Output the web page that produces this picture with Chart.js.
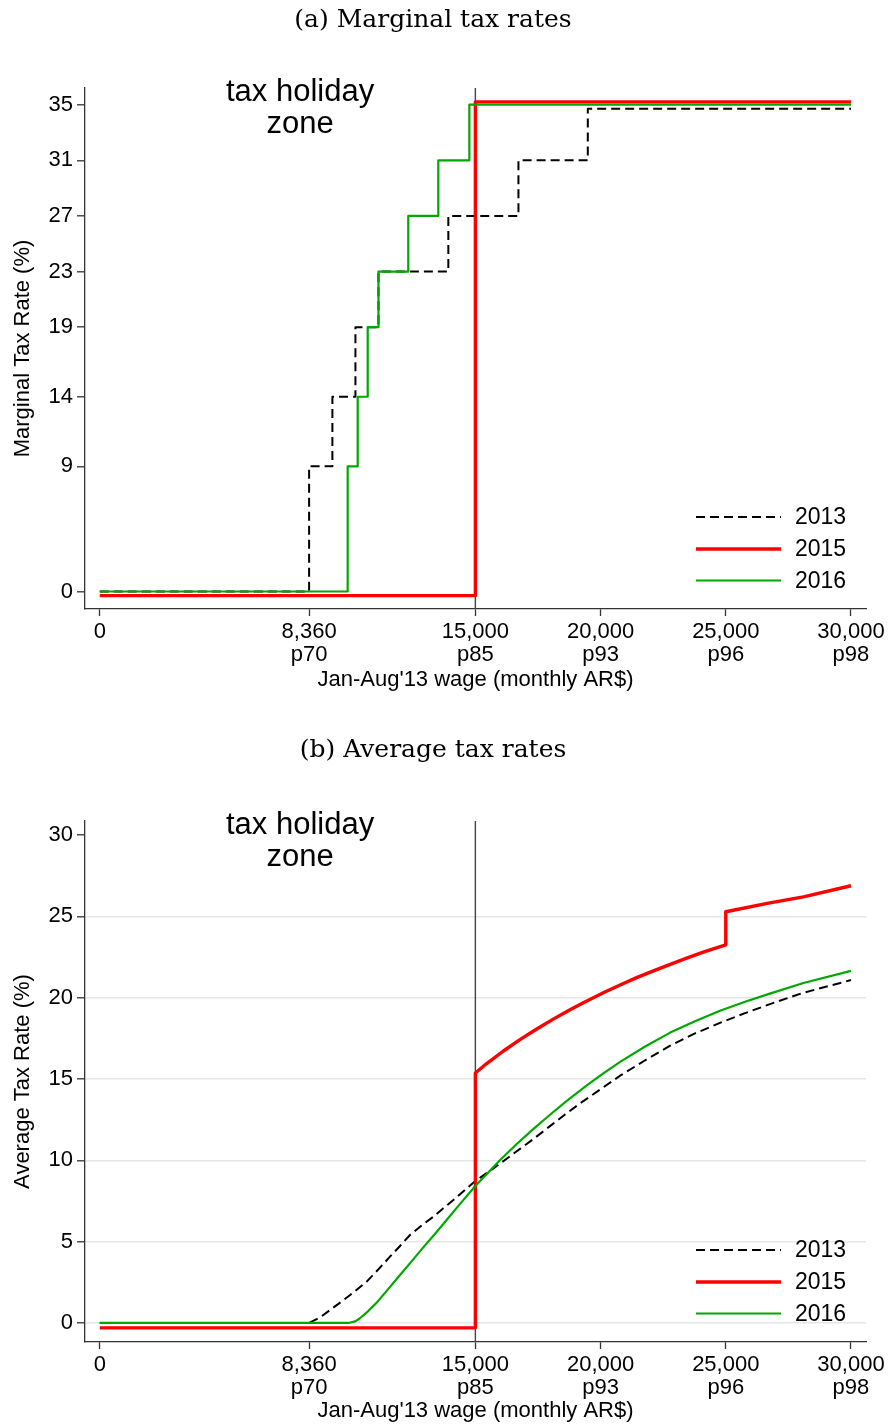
<!DOCTYPE html>
<html>
<head>
<meta charset="utf-8">
<script src="https://cdn.jsdelivr.net/npm/chart.js@4.4.1/dist/chart.umd.min.js"></script>
<style>
  html, body { margin: 0; padding: 0; background: #fff; }
  body { width: 888px; height: 1427px; position: relative; overflow: hidden; }
  .panel { position: absolute; left: 0; }
  #panelA { top: 0; }
  #panelB { top: 731px; }
</style>
</head>
<body>
<div class="panel" id="panelA"><canvas id="mtr" width="888" height="700"></canvas></div>
<div class="panel" id="panelB"><canvas id="atr" width="888" height="696"></canvas></div>
<script>
/* global Chart */

// x axis (shared by both panels)
const xTickValues = [0, 8360, 15000, 20000, 25000, 30000]
const xTickLabels = ['0', '8,360', '15,000', '20,000', '25,000', '30,000']
const xPctLabels = ['', 'p70', 'p85', 'p93', 'p96', 'p98']
const holidayCutoff = 15000
const wageEnd = 30000

// (a) marginal tax rates: bracket start wage and rate from that wage on
const mtrTicks = [0, 9, 14, 19, 23, 27, 31, 35]
const mtr2013Start = [0, 8360, 9290, 10210, 11130, 13920, 16720, 19490]
const mtr2013 = [0, 9, 14, 19, 23, 27, 31, 34.7]
const mtr2015Start = [0, 15000]
const mtr2015 = [-0.3, 35.2]
const mtr2016Start = [0, 9900, 10300, 10700, 11130, 12320, 13520, 14760]
const mtr2016 = [0, 9, 14, 19, 23, 27, 31, 35]

// (b) average tax rates
const atrTicks = [0, 5, 10, 15, 20, 25, 30]
const atr2013Wage = [0, 8360, 8800, 9200, 9600, 10000, 10660, 11130, 11590, 12000, 12390, 12860, 13320, 13720, 14120, 14560, 15000,
  15720, 16250, 16780, 17310, 17980, 18580, 19180, 19980, 20780, 21780, 22780, 23770, 24770, 25770, 26760, 28100, 30000]
const atr2013 = [0, 0, 0.35, 0.8, 1.25, 1.72, 2.54, 3.3, 4.08, 4.75, 5.41, 6.0, 6.53, 7.05, 7.56, 8.15, 8.73,
  9.5, 10.1, 10.7, 11.3, 12.1, 12.82, 13.5, 14.35, 15.2, 16.15, 17.05, 17.8, 18.45, 19.05, 19.6, 20.3, 21.08]
const atr2015Wage = [0, 15000, 15000, 15450, 16120, 16780, 17450, 18110, 18780, 19450, 20110, 20780, 21440, 22110, 22780, 23440, 24100, 25000,
  25000, 26760, 28100, 30000]
const atr2015 = [-0.3, -0.3, 15.37, 15.95, 16.72, 17.42, 18.07, 18.68, 19.25, 19.8, 20.3, 20.78, 21.23, 21.65, 22.05, 22.43, 22.8, 23.25,
  25.28, 25.83, 26.2, 26.88]
const atr2016Wage = [0, 9930, 10200, 10390, 10700, 11060, 11500, 11990, 12460, 12920, 13400, 13860, 14430, 15000,
  15980, 16650, 17310, 17980, 18650, 19450, 20110, 20780, 21780, 22780, 23770, 24770, 25770, 26760, 28100, 30000]
const atr2016 = [0, 0, 0.1, 0.29, 0.7, 1.25, 2.05, 2.95, 3.8, 4.65, 5.5, 6.35, 7.4, 8.42,
  10.0, 11.0, 11.92, 12.8, 13.65, 14.6, 15.35, 16.05, 17.0, 17.85, 18.55, 19.2, 19.75, 20.25, 20.9, 21.65]

const BLACK = '#000000'
const RED = '#ff0000'
const GREEN = '#00a800'
const SANS = '"Liberation Sans", Arial, sans-serif'

Chart.defaults.font.family = SANS
Chart.defaults.color = '#000'

function steps (starts, rates, end) {
  const pts = []
  starts.forEach((x, i) => {
    pts.push({x, y: rates[i]})
    pts.push({x: i + 1 < starts.length ? starts[i + 1] : end, y: rates[i]})
  })
  return pts
}

function pairs (xs, ys) {
  return xs.map((x, i) => ({x, y: ys[i]}))
}

const legendItems = [
  {label: '2013', color: BLACK, width: 2, dash: [9, 5]},
  {label: '2015', color: RED, width: 3.4, dash: []},
  {label: '2016', color: GREEN, width: 2.2, dash: []},
]

const overlay = {
  id: 'overlay',
  afterDraw (chart) {
    const {ctx, chartArea, scales: {x}} = chart
    ctx.save()
    ctx.fillStyle = '#000'
    ctx.textAlign = 'center'
    ctx.textBaseline = 'middle'
    ctx.font = '31px ' + SANS
    const hx = x.getPixelForValue(8000)
    ctx.fillText('tax holiday', hx, chartArea.top + 4)
    ctx.fillText('zone', hx, chartArea.top + 36)

    const rows = [-92, -60, -28.5]
    ctx.font = '23px ' + SANS
    ctx.textAlign = 'left'
    legendItems.forEach((item, i) => {
      const yy = chartArea.bottom + rows[i]
      ctx.beginPath()
      ctx.strokeStyle = item.color
      ctx.lineWidth = item.width
      ctx.setLineDash(item.dash)
      ctx.moveTo(chartArea.right - 170, yy)
      ctx.lineTo(chartArea.right - 85, yy)
      ctx.stroke()
      ctx.setLineDash([])
      ctx.fillText(item.label, chartArea.right - 71, yy + 1)
    })
    ctx.restore()
  }
}

function lineSet (label, data, color, width, dash, order) {
  return {
    label,
    data,
    borderColor: color,
    backgroundColor: color,
    borderWidth: width,
    borderDash: dash,
    pointRadius: 0,
    tension: 0,
    fill: false,
    order,
    borderJoinStyle: 'round',
  }
}

function makeChart (id, cfg) {
  const ctx = document.getElementById(id).getContext('2d')
  return new Chart(ctx, {
    type: 'line',
    data: {
      datasets: [
        lineSet('cutoff', [{x: holidayCutoff, y: cfg.yMin}, {x: holidayCutoff, y: cfg.yMax}], '#444', 1.4, [], 4),
        lineSet('2013', cfg.s2013, BLACK, 2, [9, 5], 3),
        lineSet('2015', cfg.s2015, RED, 3.4, [], 2),
        lineSet('2016', cfg.s2016, GREEN, 2.2, [], 1),
      ],
    },
    options: {
      responsive: false,
      animation: false,
      events: [],
      layout: {padding: {left: 0, right: 22, top: 0, bottom: 0}},
      plugins: {
        legend: {display: false},
        tooltip: {enabled: false},
        title: {
          display: true,
          text: cfg.title,
          color: '#000',
          font: {family: '"DejaVu Serif", "Liberation Serif", serif', size: 25, weight: 'normal', lineHeight: 1.2},
          padding: {top: cfg.titleTop, bottom: cfg.titleBottom},
        },
      },
      scales: {
        x: {
          type: 'linear',
          min: -590,
          max: 30600,
          afterBuildTicks: (scale) => { scale.ticks = xTickValues.map(value => ({value})) },
          afterFit: (scale) => {
            scale.height = cfg.xHeight
            scale.paddingLeft = 0
            scale.paddingRight = 0
          },
          ticks: {
            autoSkip: false,
            maxRotation: 0,
            minRotation: 0,
            padding: 4,
            color: '#000',
            font: {size: 22, lineHeight: 1.05},
            callback: (v, i) => [xTickLabels[i], xPctLabels[i]],
          },
          grid: {drawOnChartArea: false, drawTicks: true, tickLength: 7, tickColor: '#333', tickWidth: 1.3},
          border: {display: true, color: '#333', width: 1.3},
          title: {
            display: true,
            text: "Jan-Aug'13 wage (monthly AR$)",
            color: '#000',
            font: {size: 22, lineHeight: 1.2},
            padding: {top: 0, bottom: cfg.xTitleBottom},
          },
        },
        y: {
          type: 'linear',
          min: cfg.yMin,
          max: cfg.yMax,
          afterBuildTicks: (scale) => { scale.ticks = cfg.yTicks.map(value => ({value})) },
          afterFit: (scale) => {
            scale.width = 85
            scale.paddingTop = 0
            scale.paddingBottom = 0
          },
          ticks: {
            padding: 4,
            color: '#000',
            font: {size: 22},
            callback: v => String(v),
          },
          grid: {
            drawOnChartArea: cfg.grid,
            color: (c) => (c.tick && c.tick.value === cfg.yTicks[cfg.yTicks.length - 1]) ? 'rgba(0,0,0,0)' : '#e6e6e6',
            lineWidth: 1.6,
            drawTicks: true,
            tickLength: 8,
            tickColor: '#333',
            tickWidth: 1.3,
          },
          border: {display: true, color: '#333', width: 1.3},
          title: {
            display: true,
            text: cfg.yTitle,
            color: '#000',
            font: {size: 22, lineHeight: 1.2},
            padding: {top: 10, bottom: 0},
          },
        },
      },
    },
    plugins: [overlay],
  })
}

makeChart('mtr', {
  title: '(a) Marginal tax rates',
  titleTop: 5,
  titleBottom: 53,
  xHeight: 91,
  xTitleBottom: 7,
  yMin: -1.26,
  yMax: 36.2,
  yTicks: mtrTicks,
  yTitle: 'Marginal Tax Rate (%)',
  grid: false,
  s2013: steps(mtr2013Start, mtr2013, wageEnd),
  s2015: steps(mtr2015Start, mtr2015, wageEnd),
  s2016: steps(mtr2016Start, mtr2016, wageEnd),
})

makeChart('atr', {
  title: '(b) Average tax rates',
  titleTop: 4,
  titleBottom: 56,
  xHeight: 85,
  xTitleBottom: 3,
  yMin: -1.17,
  yMax: 30.86,
  yTicks: atrTicks,
  yTitle: 'Average Tax Rate (%)',
  grid: true,
  s2013: pairs(atr2013Wage, atr2013),
  s2015: pairs(atr2015Wage, atr2015),
  s2016: pairs(atr2016Wage, atr2016),
})
</script>
</body>
</html>
